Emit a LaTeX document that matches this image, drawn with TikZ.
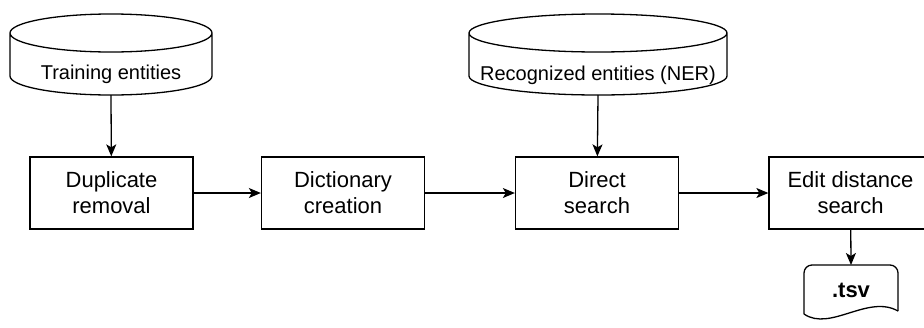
\documentclass[tikz,border=0pt]{standalone}
\usepackage{fontspec}
\setmainfont{Liberation Sans}
\usetikzlibrary{arrows.meta}

\begin{document}
\begin{tikzpicture}[x=0.5pt,y=0.5pt,line width=0.65pt,
  >={Stealth[length=6pt,width=5pt,inset=1.5pt]},
  stage/.style={draw,minimum width=81.5pt,minimum height=36pt,inner sep=0pt,
    align=center,font=\fontsize{11}{13}\selectfont},
  store/.style={inner sep=0pt,font=\fontsize{10}{12}\selectfont}]
\useasboundingbox (0,0) rectangle (924,-327);
% data stores
\draw (10,-33) -- (10,-76) arc[start angle=180,end angle=360,x radius=101,y radius=19] -- (212,-33)
      (111,-33) ellipse[x radius=101,y radius=19];
\node[store] (train) at (111,-74) {Training entities};
\coordinate (trainbot) at (111,-95);
\draw (469,-33) -- (469,-76) arc[start angle=180,end angle=360,x radius=129,y radius=19] -- (727,-33)
      (598,-33) ellipse[x radius=129,y radius=19];
\node[store] (ner) at (598,-75) {Recognized entities (NER)};
\coordinate (nerbot) at (598,-95);
% pipeline
\node[stage] (dup)  at (111.5,-193) {Duplicate\\removal};
\node[stage] (dict) at (343,-193)   {Dictionary\\creation};
\node[stage] (direct) at (597,-193) {Direct\\search};
\node[stage] (edit) at (850.5,-193) {Edit distance\\search};
% output file
\draw[rounded corners=4pt] (898,-311) -- (898,-265) -- (804,-265) -- (804,-314);
\draw (804,-314) .. controls (830,-332) and (868,-294) .. (898,-311);
\node[font=\fontsize{11}{13}\selectfont\bfseries] (tsv) at (851,-290) {.tsv};
\coordinate (tsvtop) at (851,-265);
% arrows
\draw[->] (trainbot) -- (dup);
\draw[->] (nerbot) -- (direct);
\draw[->] (dup) -- (dict);
\draw[->] (dict) -- (direct);
\draw[->] (direct) -- (edit);
\draw[->] (edit) -- (tsvtop);
\end{tikzpicture}
\end{document}
